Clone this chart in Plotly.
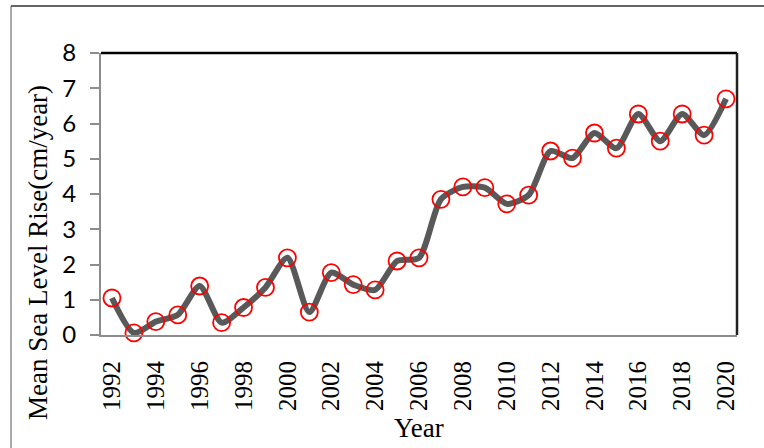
import plotly.graph_objects as go

years = list(range(1992, 2021))
sea_level_rise = [1.05, 0.06, 0.38, 0.57, 1.39, 0.35, 0.78, 1.35, 2.19, 0.65,
                  1.77, 1.43, 1.28, 2.10, 2.19, 3.85, 4.20, 4.18, 3.72, 3.97,
                  5.22, 5.02, 5.73, 5.30, 6.27, 5.50, 6.27, 5.67, 6.70]
x_tick_years = years[::2]
y_ticks = [0, 1, 2, 3, 4, 5, 6, 7, 8]

W, H = 764, 448
L, R, T, B = 101, 27, 53, 113
pw, ph = W - L - R, H - T - B

def px(x):
    return (x - L) / pw

def py(y):
    return (H - B - y) / ph

fig = go.Figure()
fig.add_trace(go.Scatter(
    x=years, y=sea_level_rise, mode="lines+markers",
    line=dict(color="#595959", width=6, shape="spline", smoothing=0.7),
    marker=dict(symbol="circle-open", size=17, color="#ff0000", line=dict(width=1.8, color="#ff0000")),
    cliponaxis=False, showlegend=False,
))

fig.update_layout(
    width=W, height=H,
    margin=dict(l=L, r=R, t=T, b=B),
    paper_bgcolor="white", plot_bgcolor="white",
    xaxis=dict(range=[1991.5, 2020.5], tickvals=x_tick_years, ticktext=[str(y) for y in x_tick_years],
               tickangle=-90, showgrid=False, zeroline=False, showline=True, linecolor="#8c8c8c",
               linewidth=2, ticks="", ticklabelstandoff=14,
               tickfont=dict(family="Liberation Serif", size=25, color="black")),
    yaxis=dict(range=[0, 8], tickvals=y_ticks, showgrid=False, zeroline=False, showline=True,
               linecolor="#8c8c8c", linewidth=2, ticks="outside", ticklen=9, tickwidth=2,
               tickcolor="#8c8c8c", ticklabelstandoff=9,
               tickfont=dict(family="Lato", size=24, color="black")),
    shapes=[
        dict(type="line", xref="paper", yref="paper", x0=0, x1=1, y0=1, y1=1,
             line=dict(color="black", width=2.5)),
        dict(type="line", xref="paper", yref="paper", x0=1, x1=1, y0=0, y1=1,
             line=dict(color="#222222", width=2.5)),
        dict(type="line", xref="paper", yref="paper", x0=px(11), x1=px(11), y0=py(6), y1=py(460),
             line=dict(color="#8c8c8c", width=1.5)),
        dict(type="line", xref="paper", yref="paper", x0=px(11), x1=px(780), y0=py(6), y1=py(6),
             line=dict(color="#333333", width=1.5)),
    ],
    annotations=[
        dict(text="Year", xref="paper", yref="paper", x=px(419), y=py(428), showarrow=False,
             xanchor="center", yanchor="middle", font=dict(family="Liberation Serif", size=27, color="black")),
        dict(text="Mean Sea Level Rise(cm/year)", xref="paper", yref="paper", x=px(38), y=py(253),
             showarrow=False, textangle=-90, xanchor="center", yanchor="middle",
             font=dict(family="Liberation Serif", size=27, color="black")),
    ],
)

fig.write_html("out.html", config={"displayModeBar": False},
               post_script="document.body.style.margin='0';")
